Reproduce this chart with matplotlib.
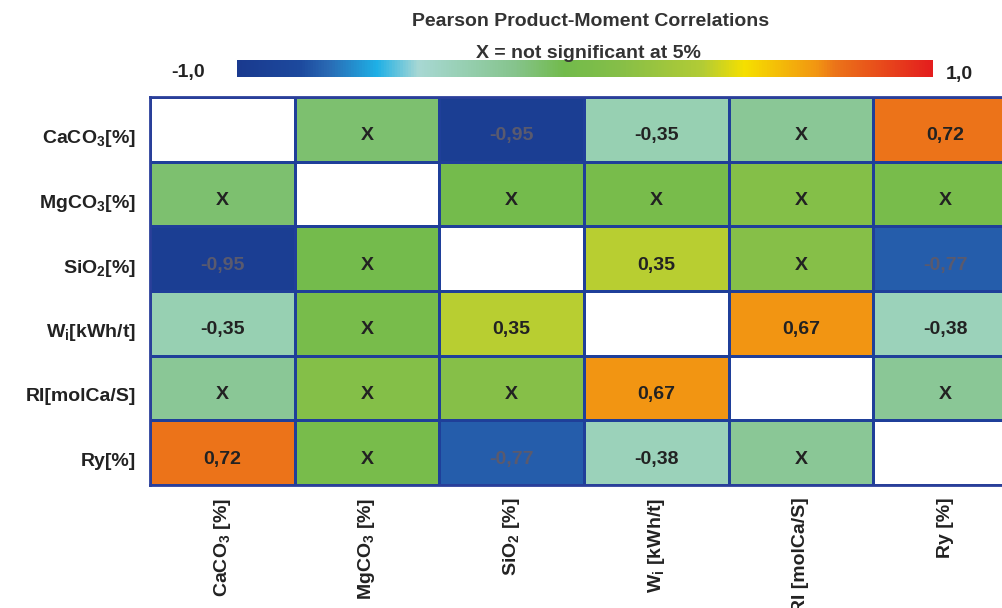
import numpy as np
import matplotlib
matplotlib.use("Agg")
import matplotlib.pyplot as plt
from matplotlib.colors import LinearSegmentedColormap

plt.rcParams['font.family'] = ['Liberation Sans', 'DejaVu Sans']
plt.rcParams['mathtext.fontset'] = 'custom'
plt.rcParams['mathtext.rm'] = 'Liberation Sans'
plt.rcParams['mathtext.bf'] = 'Liberation Sans:bold'

# ---- data ----
row_labels = [r'CaCO$_\mathbf{3}$[%]', r'MgCO$_\mathbf{3}$[%]', r'SiO$_\mathbf{2}$[%]',
              r'W$_\mathbf{i}$[kWh/t]', 'RI[molCa/S]', 'Ry[%]']
col_labels = [r'CaCO$_\mathbf{3}$ [%]', r'MgCO$_\mathbf{3}$ [%]', r'SiO$_\mathbf{2}$ [%]',
              r'W$_\mathbf{i}$ [kWh/t]', 'RI [molCa/S]', 'Ry [%]']
# correlation values (non-significant values)
corr = np.array([
    [np.nan, -0.14, -0.95, -0.35, -0.24, 0.72],
    [-0.14, np.nan, -0.04, -0.01, 0.08, -0.01],
    [-0.95, -0.04, np.nan, 0.35, 0.10, -0.77],
    [-0.35, -0.01, 0.35, np.nan, 0.67, -0.38],
    [-0.24, 0.08, 0.10, 0.67, np.nan, -0.24],
    [0.72, -0.01, -0.77, -0.38, -0.24, np.nan],
])
significant = np.array([
    [0, 0, 1, 1, 0, 1],
    [0, 0, 0, 0, 0, 0],
    [1, 0, 0, 1, 0, 1],
    [1, 0, 1, 0, 1, 1],
    [0, 0, 0, 1, 0, 0],
    [1, 0, 1, 1, 0, 0],
], dtype=bool)
title = 'Pearson Product-Moment Correlations'
subtitle = 'X = not significant at 5%'

# ---- colormap ----
anchors = [
    (0.00, '#1a3a8f'), (0.09, '#1d4a9e'), (0.13, '#2a6ab4'), (0.20, '#1fb0e6'),
    (0.26, '#a8d8d4'), (0.33, '#96cfb0'), (0.40, '#86c48c'), (0.47, '#72bb4c'),
    (0.55, '#86bf48'), (0.67, '#b3cc35'), (0.73, '#f6e000'), (0.835, '#f29512'),
    (0.86, '#ec7519'), (1.00, '#e41e1e'),
]
cmap = LinearSegmentedColormap.from_list('pmc', anchors)
cmap.set_bad('white')

W, H = 1003, 608
fig = plt.figure(figsize=(W / 100, H / 100), dpi=100)
fig.patch.set_facecolor('white')

FS = 14
TXT = '#222222'

# heatmap axes (extends beyond right edge like the cropped reference)
left, right, top, bottom = 150, 1018, 97, 485
ax = fig.add_axes([left / W, 1 - bottom / H, (right - left) / W, (bottom - top) / H])
data = np.ma.masked_invalid(corr)
ax.pcolormesh(np.arange(7), np.arange(7), data, cmap=cmap, vmin=-1, vmax=1,
              edgecolors='#1f3f99', linewidth=2)
ax.set_xlim(0, 6)
ax.set_ylim(6, 0)
for s in ax.spines.values():
    s.set_color('#2a3f9a')
    s.set_linewidth(2)

for i in range(6):
    for j in range(6):
        if np.isnan(corr[i, j]):
            continue
        if significant[i, j]:
            txt = f'{corr[i, j]:.2f}'.replace('.', ',')
            col = '#5a5a6e' if corr[i, j] < -0.7 else TXT
        else:
            txt = 'X'
            col = TXT
        ax.text(j + 0.5, i + 0.6, txt, ha='center', va='center', fontsize=FS,
                fontweight='bold', color=col)

ax.set_xticks(np.arange(6) + 0.5)
ax.set_yticks(np.arange(6) + 0.6)
ax.set_yticklabels(row_labels, fontsize=FS, fontweight='bold', color=TXT)
ax.set_xticklabels(col_labels, fontsize=FS, fontweight='bold', rotation=90,
                   color=TXT, va='top')
ax.tick_params(axis='y', length=0, pad=10)
ax.tick_params(axis='x', length=0, pad=9)

# colorbar
cax = fig.add_axes([237 / W, 1 - 77 / H, 696 / W, 17 / H])
cax.imshow(np.linspace(-1, 1, 512)[None, :], aspect='auto', cmap=cmap,
           extent=[-1, 1, 0, 1])
cax.axis('off')
fig.text(205 / W, 1 - 73 / H, '-1,0', ha='right', va='center', fontsize=FS,
         fontweight='bold', color=TXT)
fig.text(946 / W, 1 - 75 / H, '1,0', ha='left', va='center', fontsize=FS,
         fontweight='bold', color=TXT)
fig.text(591 / W, 1 - 21 / H, title, ha='center', va='center', fontsize=FS,
         fontweight='bold', color='#333333')
fig.text(588 / W, 1 - 53 / H, subtitle, ha='center', va='center', fontsize=FS,
         fontweight='bold', color='#333333', zorder=10)

fig.savefig('out.png', dpi=100)
